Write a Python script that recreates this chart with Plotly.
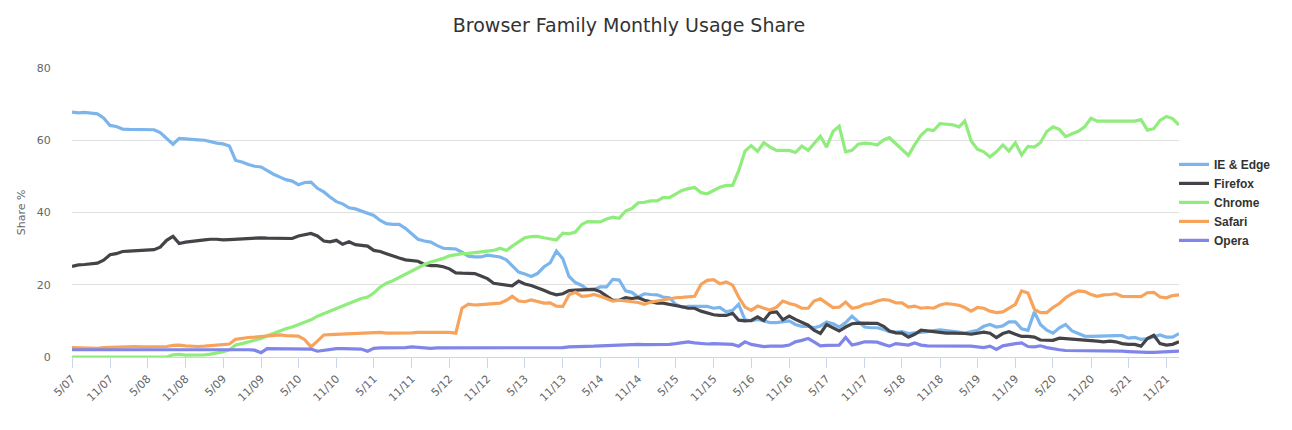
import pandas as pd
import plotly.graph_objects as go

# Monthly usage share (%) from 2007-05 to 2022-01
ie = [67.8, 67.6, 67.7, 67.5, 67.3, 66.2, 64.1, 63.8, 63.1, 63.0, 63.0, 63.0, 63.0, 62.9, 62.1, 60.4, 58.9, 60.5, 60.3, 60.1,
      60.1, 60.0, 59.6, 59.2, 59.0, 58.4, 54.4, 54.0, 53.3, 52.8, 52.6, 51.5, 50.6, 49.8, 49.1, 48.7, 47.7, 48.3, 48.4, 46.7,
      45.7, 44.3, 43.0, 42.4, 41.3, 41.0, 40.4, 39.7, 39.2, 37.8, 36.9, 36.7, 36.7, 35.6, 34.2, 32.6, 32.1, 31.8, 30.9, 30.1,
      30.0, 29.9, 29.0, 27.9, 27.7, 27.7, 28.2, 28.0, 27.7, 26.9, 25.2, 23.5, 23.0, 22.3, 23.1, 24.9, 26.1, 29.3, 27.2, 22.3,
      20.6, 19.8, 18.7, 18.7, 19.4, 19.4, 21.5, 21.3, 18.3, 17.9, 16.6, 17.5, 17.3, 17.2, 16.6, 16.4, 14.6, 13.8, 14.0, 14.0,
      13.8, 14.0, 13.5, 13.7, 12.5, 12.9, 14.6, 10.3, 10.0, 10.4, 10.0, 9.5, 9.5, 9.7, 10.0, 9.0, 8.5, 8.5, 8.1, 8.6,
      9.7, 9.2, 8.3, 9.5, 11.3, 9.8, 8.3, 8.1, 8.1, 7.6, 7.0, 6.9, 7.0, 6.5, 6.6, 6.9, 7.0, 7.3, 7.5, 7.3,
      7.2, 6.9, 6.6, 7.0, 7.4, 8.5, 9.0, 8.3, 8.6, 9.7, 9.7, 7.8, 7.4, 12.5, 9.0, 7.4, 6.6, 8.1, 9.0, 7.2,
      6.5, 5.8, 5.7, 5.8, 5.9, 5.9, 5.9, 5.9, 5.2, 5.4, 4.9, 5.1, 5.7, 6.1, 5.5, 5.5, 6.5]

firefox = [25.1, 25.5, 25.6, 25.8, 26.0, 26.8, 28.3, 28.6, 29.2, 29.3, 29.4, 29.4, 29.5, 29.7, 30.4, 32.3, 33.4, 31.4, 31.8, 32.1,
           32.2, 32.4, 32.6, 32.6, 32.4, 32.5, 32.6, 32.9, 32.9, 33.0, 33.0, 32.9, 32.9, 32.8, 33.0, 32.8, 33.5, 33.8, 34.2, 33.5,
           32.1, 31.9, 32.3, 31.2, 31.9, 31.1, 30.9, 30.7, 29.5, 29.2, 28.6, 27.9, 27.4, 26.9, 26.7, 26.5, 25.6, 25.3, 25.3, 25.0,
           24.4, 23.3, 23.2, 23.2, 23.1, 22.4, 21.7, 20.4, 20.1, 19.9, 19.7, 21.0, 20.2, 19.8, 19.2, 18.5, 17.7, 17.2, 17.5, 18.4,
           18.5, 18.5, 18.5, 18.7, 18.1, 16.9, 15.7, 15.7, 16.4, 16.2, 16.4, 15.7, 15.2, 14.9, 14.9, 14.6, 14.4, 13.9, 13.5, 13.5,
           12.7, 12.1, 11.7, 11.5, 11.5, 12.1, 10.2, 10.0, 10.1, 11.1, 10.1, 12.3, 12.5, 10.3, 11.3, 10.4, 9.5, 8.8, 7.4, 6.5,
           9.0, 8.1, 7.2, 8.3, 9.2, 9.4, 9.4, 9.5, 9.3, 8.5, 7.2, 6.7, 6.6, 5.5, 6.3, 7.4, 7.2, 6.9, 6.6, 6.6,
           6.6, 6.6, 6.5, 6.3, 6.6, 6.9, 6.6, 5.4, 6.5, 7.0, 6.3, 5.7, 5.7, 5.5, 4.7, 4.6, 4.6, 5.2, 5.1, 5.0,
           4.9, 4.8, 4.6, 4.4, 4.2, 4.4, 4.2, 3.7, 3.5, 3.5, 3.0, 5.1, 6.0, 3.7, 3.3, 3.5, 4.2]

chrome = [0.0, 0.0, 0.0, 0.0, 0.0, 0.0, 0.0, 0.0, 0.0, 0.0, 0.0, 0.0, 0.0, 0.0, 0.0, 0.0, 0.6, 0.7, 0.5, 0.5,
          0.5, 0.6, 0.8, 1.0, 1.4, 2.0, 3.3, 3.7, 4.1, 4.6, 5.1, 5.9, 6.6, 7.2, 7.8, 8.3, 9.0, 9.5, 10.3, 11.3,
          12.0, 12.6, 13.3, 14.0, 14.8, 15.6, 16.2, 16.6, 17.7, 19.4, 20.4, 21.1, 22.0, 23.1, 24.0, 24.8, 25.6, 26.3, 26.7, 27.3,
          28.0, 28.4, 28.6, 28.7, 28.9, 29.3, 29.5, 29.5, 30.1, 29.5, 30.7, 32.0, 33.0, 33.3, 33.4, 33.0, 32.7, 32.4, 34.3, 34.1,
          34.6, 36.7, 37.5, 37.5, 37.4, 38.2, 38.7, 38.4, 40.4, 41.1, 42.7, 42.8, 43.2, 43.2, 44.1, 44.1, 45.0, 46.1, 46.6, 46.9,
          45.5, 45.2, 46.1, 47.0, 47.5, 47.5, 51.5, 57.0, 58.5, 56.9, 59.3, 58.1, 57.2, 57.2, 57.2, 56.6, 58.4, 57.2, 58.9, 61.1,
          58.1, 62.4, 63.9, 56.8, 57.2, 58.9, 59.2, 59.1, 58.7, 60.1, 60.7, 59.0, 57.4, 55.8, 58.7, 61.4, 63.0, 62.7, 64.6, 64.4,
          64.3, 63.7, 65.3, 59.8, 57.5, 56.8, 55.4, 56.8, 58.7, 57.0, 59.3, 55.9, 58.3, 58.1, 59.3, 62.4, 63.7, 63.0, 61.0, 61.8,
          62.5, 63.7, 66.1, 65.3, 65.3, 65.3, 65.2, 65.3, 65.2, 65.3, 65.7, 62.8, 63.2, 65.5, 66.6, 66.0, 64.2]

safari = [2.6, 2.5, 2.4, 2.4, 2.4, 2.6, 2.7, 2.8, 2.9, 2.9, 2.9, 2.8, 2.8, 2.7, 2.7, 2.9, 3.2, 3.3, 3.1, 2.9,
          2.9, 3.0, 3.1, 3.2, 3.4, 3.6, 4.9, 5.2, 5.4, 5.5, 5.6, 5.7, 5.9, 6.1, 5.9, 5.8, 5.8, 4.8, 2.8, 4.4,
          6.1, 6.2, 6.3, 6.3, 6.3, 6.4, 6.5, 6.6, 6.7, 6.8, 6.6, 6.6, 6.5, 6.6, 6.7, 6.8, 6.8, 6.8, 6.9, 6.9,
          6.8, 6.6, 13.5, 14.6, 14.4, 14.5, 14.6, 14.9, 14.9, 15.7, 16.8, 15.5, 15.3, 15.8, 15.3, 14.9, 15.0, 14.1, 14.0, 17.2,
          17.9, 16.8, 16.9, 17.3, 16.8, 16.2, 15.5, 15.7, 15.5, 15.3, 15.1, 14.6, 15.2, 15.5, 15.8, 16.2, 16.4, 16.5, 16.6, 16.8,
          20.1, 21.2, 21.4, 20.3, 20.8, 19.9, 16.6, 13.8, 12.9, 14.1, 13.5, 13.0, 13.8, 15.5, 14.8, 14.4, 13.5, 13.5, 15.5, 16.1,
          14.9, 13.7, 13.8, 15.2, 13.5, 13.8, 14.6, 14.8, 15.5, 15.9, 15.7, 15.0, 15.0, 13.8, 14.1, 13.5, 13.7, 13.5, 14.4, 14.8,
          14.6, 14.3, 13.7, 12.7, 13.7, 13.5, 12.7, 12.3, 12.5, 13.5, 14.6, 18.3, 17.7, 13.2, 12.3, 12.3, 13.7, 14.8, 16.4, 17.5,
          18.3, 18.1, 17.3, 16.8, 17.2, 17.3, 17.5, 16.8, 16.7, 16.8, 16.7, 17.8, 17.9, 16.6, 16.4, 17.0, 17.2]

opera = [2.0, 2.0, 2.0, 2.0, 2.0, 2.0, 2.2, 2.2, 2.2, 2.2, 2.2, 2.2, 2.2, 2.2, 2.2, 2.2, 2.2, 2.2, 2.2, 2.2,
         2.2, 2.2, 2.2, 2.2, 2.2, 2.0, 2.0, 2.0, 2.0, 1.9, 1.2, 2.3, 2.3, 2.3, 2.3, 2.3, 2.3, 2.3, 2.2, 1.6,
         1.8, 2.2, 2.3, 2.3, 2.3, 2.3, 2.2, 1.6, 2.4, 2.5, 2.5, 2.4, 2.5, 2.6, 2.8, 2.7, 2.4, 2.4, 2.5, 2.5,
         2.6, 2.5, 2.4, 2.4, 2.5, 2.5, 2.6, 2.5, 2.5, 2.5, 2.5, 2.5, 2.4, 2.4, 2.5, 2.5, 2.6, 2.6, 2.6, 2.8,
         2.8, 2.8, 3.0, 3.0, 3.1, 3.2, 3.3, 3.3, 3.3, 3.4, 3.5, 3.4, 3.4, 3.4, 3.4, 3.5, 3.7, 4.0, 4.2, 3.9,
         3.7, 3.6, 3.7, 3.7, 3.6, 3.5, 3.0, 4.2, 3.5, 3.2, 2.9, 3.0, 3.0, 3.0, 3.3, 4.2, 4.6, 5.1, 4.2, 3.1,
         3.2, 3.3, 3.3, 5.4, 3.3, 3.7, 4.2, 4.2, 4.1, 3.5, 3.0, 3.7, 3.5, 3.3, 3.9, 3.3, 3.1, 3.1, 3.1, 3.1,
         3.1, 3.1, 3.0, 3.0, 2.8, 2.6, 3.0, 2.1, 3.1, 3.5, 3.7, 3.9, 2.9, 2.8, 3.1, 2.6, 2.2, 2.0, 1.8, 1.8,
         1.8, 1.8, 1.8, 1.7, 1.7, 1.7, 1.7, 1.6, 1.5, 1.4, 1.2, 1.3, 1.3, 1.4, 1.5, 1.6, 1.6]

series_names = ["IE & Edge", "Firefox", "Chrome", "Safari", "Opera"]
series_colors = ["#7cb5ec", "#434348", "#90ed7d", "#f7a35c", "#8085e9"]

tick_labels = ["5/07", "11/07", "5/08", "11/08", "5/09", "11/09", "5/10", "11/10", "5/11", "11/11",
               "5/12", "11/12", "5/13", "11/13", "5/14", "11/14", "5/15", "11/15", "5/16", "11/16",
               "5/17", "11/17", "5/18", "11/18", "5/19", "11/19", "5/20", "11/20", "5/21", "11/21"]
tick_dates = [pd.Timestamp(year=2000 + int(t.split("/")[1]), month=int(t.split("/")[0]), day=1) for t in tick_labels]

months = pd.date_range("2007-05-01", periods=len(ie), freq="MS")

fig = go.Figure()
for name, vals, col in zip(series_names, [ie, firefox, chrome, safari, opera], series_colors):
    fig.add_trace(go.Scatter(x=months, y=vals, mode="lines", name=name,
                             line=dict(color=col, width=3.2)))

FONT = "DejaVu Sans"
fig.update_layout(
    width=1292, height=430,
    paper_bgcolor="white", plot_bgcolor="white",
    margin=dict(l=64, r=121, t=60, b=81, autoexpand=False),
    font=dict(family=FONT, color="#666666", size=11),
    title=dict(text="Browser Family Monthly Usage Share", x=621 / 1292, xref="container", xanchor="center",
               y=1 - 17 / 430, yref="container", yanchor="middle",
               font=dict(family=FONT, size=19, color="#333333")),
    legend=dict(x=0.9955, y=0.535, xanchor="left", yanchor="middle", tracegroupgap=0,
                font=dict(family="Liberation Sans", size=12, color="#333333", weight="bold"),
                bgcolor="rgba(0,0,0,0)", itemwidth=30),
    showlegend=True,
    hovermode="x",
)
fig.update_xaxes(
    type="date", range=[months[0], months[-1]],
    tickvals=tick_dates, ticktext=tick_labels, tickangle=-45,
    showgrid=False, showline=True, linecolor="#ccd6eb", linewidth=1,
    ticks="outside", ticklen=10, tickcolor="#ccd6eb",
    tickfont=dict(family=FONT, size=11, color="#666666"),
    zeroline=False,
)
fig.update_yaxes(
    range=[0, 80], dtick=20, tick0=0,
    showgrid=True, gridcolor="#e0e0e0", gridwidth=1,
    zeroline=False, showline=False,
    ticks="outside", ticklen=18, tickcolor="rgba(0,0,0,0)",
    tickfont=dict(family=FONT, size=11, color="#666666"),
)
fig.add_annotation(text="Share %", textangle=-90, xref="paper", yref="paper",
                   x=(14 - 64.3) / 1106.7, y=0.5, xanchor="center", yanchor="middle",
                   showarrow=False, font=dict(family=FONT, size=11, color="#666666"))
fig.add_shape(type="rect", xref="paper", yref="paper",
              x0=-64.3 / 1106.7, x1=(1292 - 64.3) / 1106.7,
              y0=-(430 - 349.3) / 289.0, y1=-(428 - 349.3) / 289.0,
              line=dict(width=0), fillcolor="#e6e6e6", layer="above")

fig.write_html("out.html")
